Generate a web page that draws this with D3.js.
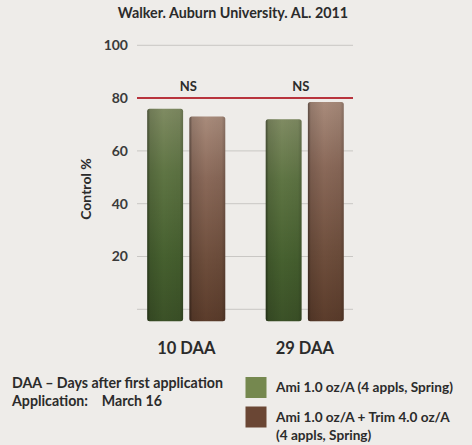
<!DOCTYPE html>
<html>
<head>
<meta charset="utf-8">
<script src="https://cdn.jsdelivr.net/npm/d3@7"></script>
<style>
  html, body { margin: 0; padding: 0; background: #eeece9; }
  svg { display: block; }
</style>
</head>
<body>
<svg id="chart" width="472" height="445"></svg>
<script>
// ---- data ----
const categories = ["10 DAA", "29 DAA"];
const seriesNames = ["Ami 1.0 oz/A (4 appls, Spring)", "Ami 1.0 oz/A + Trim 4.0 oz/A (4 appls, Spring)"];
const amiValues = [76, 72];
const amiTrimValues = [73, 78.5];
const yTicks = [20, 40, 60, 80, 100];
const thresholdValue = 80;
const significance = ["NS", "NS"];
const title = "Walker. Auburn University. AL. 2011";
const yLabel = "Control %";
const notes = ["DAA – Days after first application", "Application:    March 16"];
const legendLines = [["Ami 1.0 oz/A (4 appls, Spring)"], ["Ami 1.0 oz/A + Trim 4.0 oz/A", "(4 appls, Spring)"]];

const rows = categories.map((c, i) => ({ cat: c, values: [amiValues[i], amiTrimValues[i]] }));

const svg = d3.select("#chart");
const font = "Lato, 'Open Sans', sans-serif";
const ink = "#2b2b2b";

// ---- scales ----
const y = d3.scaleLinear().domain([0, 100]).range([309.3, 45.3]);
const x0 = d3.scaleBand().domain(categories).range([127, 364]);
const groupW = 78;
const x1 = d3.scaleBand().domain([0, 1])
  .range([(x0.bandwidth() - groupW) / 2, (x0.bandwidth() + groupW) / 2])
  .paddingInner(0.15);
const plotLeft = 137, plotRight = 353;
const barDrop = 12; // bars sit slightly below the zero line

// ---- gradients ----
const defs = svg.append("defs");
function vGrad(id, stops) {
  const g = defs.append("linearGradient").attr("id", id).attr("x1", 0).attr("y1", 0).attr("x2", 0).attr("y2", 1);
  stops.forEach(s => g.append("stop").attr("offset", s[0]).attr("stop-color", s[1]));
}
vGrad("gGreen", [[0, "#7f8b62"], [0.3, "#5f7544"], [0.7, "#46602f"], [1, "#3b5127"]]);
vGrad("gBrown", [[0, "#a88b7b"], [0.3, "#8a6959"], [0.7, "#6e4e3c"], [1, "#5b3c2b"]]);
const sh = defs.append("linearGradient").attr("id", "shade").attr("x1", 0).attr("y1", 0).attr("x2", 1).attr("y2", 0);
[[0, 0.45], [0.08, 0.12], [0.45, 0], [0.9, 0.05], [1, 0.2]].forEach(s =>
  sh.append("stop").attr("offset", s[0]).attr("stop-color", "#000").attr("stop-opacity", s[1]));
const fills = ["url(#gGreen)", "url(#gBrown)"];
const swatchColors = ["#75884f", "#6a4634"];

// ---- title ----
svg.append("text").attr("x", 233).attr("y", 18).attr("text-anchor", "middle")
  .attr("font-family", font).attr("font-weight", 700).attr("font-size", 14.3)
  .attr("fill", ink).text(title);

// ---- grid and y axis ----
const yAxis = d3.axisLeft(y).tickValues(yTicks).tickSize(0).tickPadding(0);
const ga = svg.append("g").attr("transform", `translate(128,0)`).call(yAxis);
ga.select(".domain").remove();
ga.selectAll("text").attr("font-family", font).attr("font-weight", 700)
  .attr("font-size", 14).attr("fill", "#3a3a3a");

svg.append("g").selectAll("line").data([0, ...yTicks.filter(t => t !== thresholdValue)]).join("line")
  .attr("x1", plotLeft).attr("x2", plotRight)
  .attr("y1", d => y(d)).attr("y2", d => y(d))
  .attr("stroke", "#c9c7c4").attr("stroke-width", 1);

svg.append("text").attr("transform", `translate(91,189) rotate(-90)`)
  .attr("text-anchor", "middle").attr("font-family", font).attr("font-weight", 700)
  .attr("font-size", 14).attr("fill", ink).text(yLabel);

// ---- bars ----
const groups = svg.append("g").selectAll("g").data(rows).join("g")
  .attr("transform", d => `translate(${x0(d.cat)},0)`);
groups.each(function (d) {
  const g = d3.select(this);
  d.values.forEach((v, i) => {
    const bx = x1(i), bw = x1.bandwidth();
    const top = y(v), h = y(0) + barDrop - top;
    g.append("rect").attr("x", bx).attr("y", top).attr("width", bw).attr("height", h)
      .attr("rx", 2.5).attr("fill", fills[i]);
    g.append("rect").attr("x", bx).attr("y", top).attr("width", bw).attr("height", h)
      .attr("rx", 2.5).attr("fill", "url(#shade)");
  });
});

// ---- threshold line and significance ----
svg.append("line").attr("x1", plotLeft).attr("x2", plotRight)
  .attr("y1", y(thresholdValue)).attr("y2", y(thresholdValue))
  .attr("stroke", "#b8343d").attr("stroke-width", 2);

svg.append("g").selectAll("text").data(rows).join("text")
  .attr("x", (d, i) => x0(d.cat) + x0.bandwidth() / 2 + (i === 0 ? 2 : -4))
  .attr("y", 91).attr("text-anchor", "middle")
  .attr("font-family", font).attr("font-weight", 700).attr("font-size", 13)
  .attr("fill", ink).text((d, i) => significance[i]);

// ---- category labels ----
svg.append("g").selectAll("text").data(categories).join("text")
  .attr("x", d => x0(d) + x0.bandwidth() / 2).attr("y", 354).attr("text-anchor", "middle")
  .attr("font-family", font).attr("font-weight", 700).attr("font-size", 16.5)
  .attr("fill", ink).text(d => d);

// ---- notes ----
svg.append("g").selectAll("text").data(notes).join("text")
  .attr("x", 12).attr("y", (d, i) => 388 + i * 18)
  .attr("font-family", font).attr("font-weight", 700).attr("font-size", 14.2)
  .attr("fill", ink).style("white-space", "pre").text(d => d);

// ---- legend ----
const lg = svg.append("g");
legendLines.forEach((lines, i) => {
  const top = 377 + i * 29.5;
  lg.append("rect").attr("x", 245.5).attr("y", top).attr("width", 21).attr("height", 21)
    .attr("fill", swatchColors[i]);
  lines.forEach((t, j) => lg.append("text").attr("x", 276).attr("y", top + 15 + j * 18.5)
    .attr("font-family", font).attr("font-weight", 700).attr("font-size", 13.6)
    .attr("fill", ink).text(t));
});
</script>
</body>
</html>
